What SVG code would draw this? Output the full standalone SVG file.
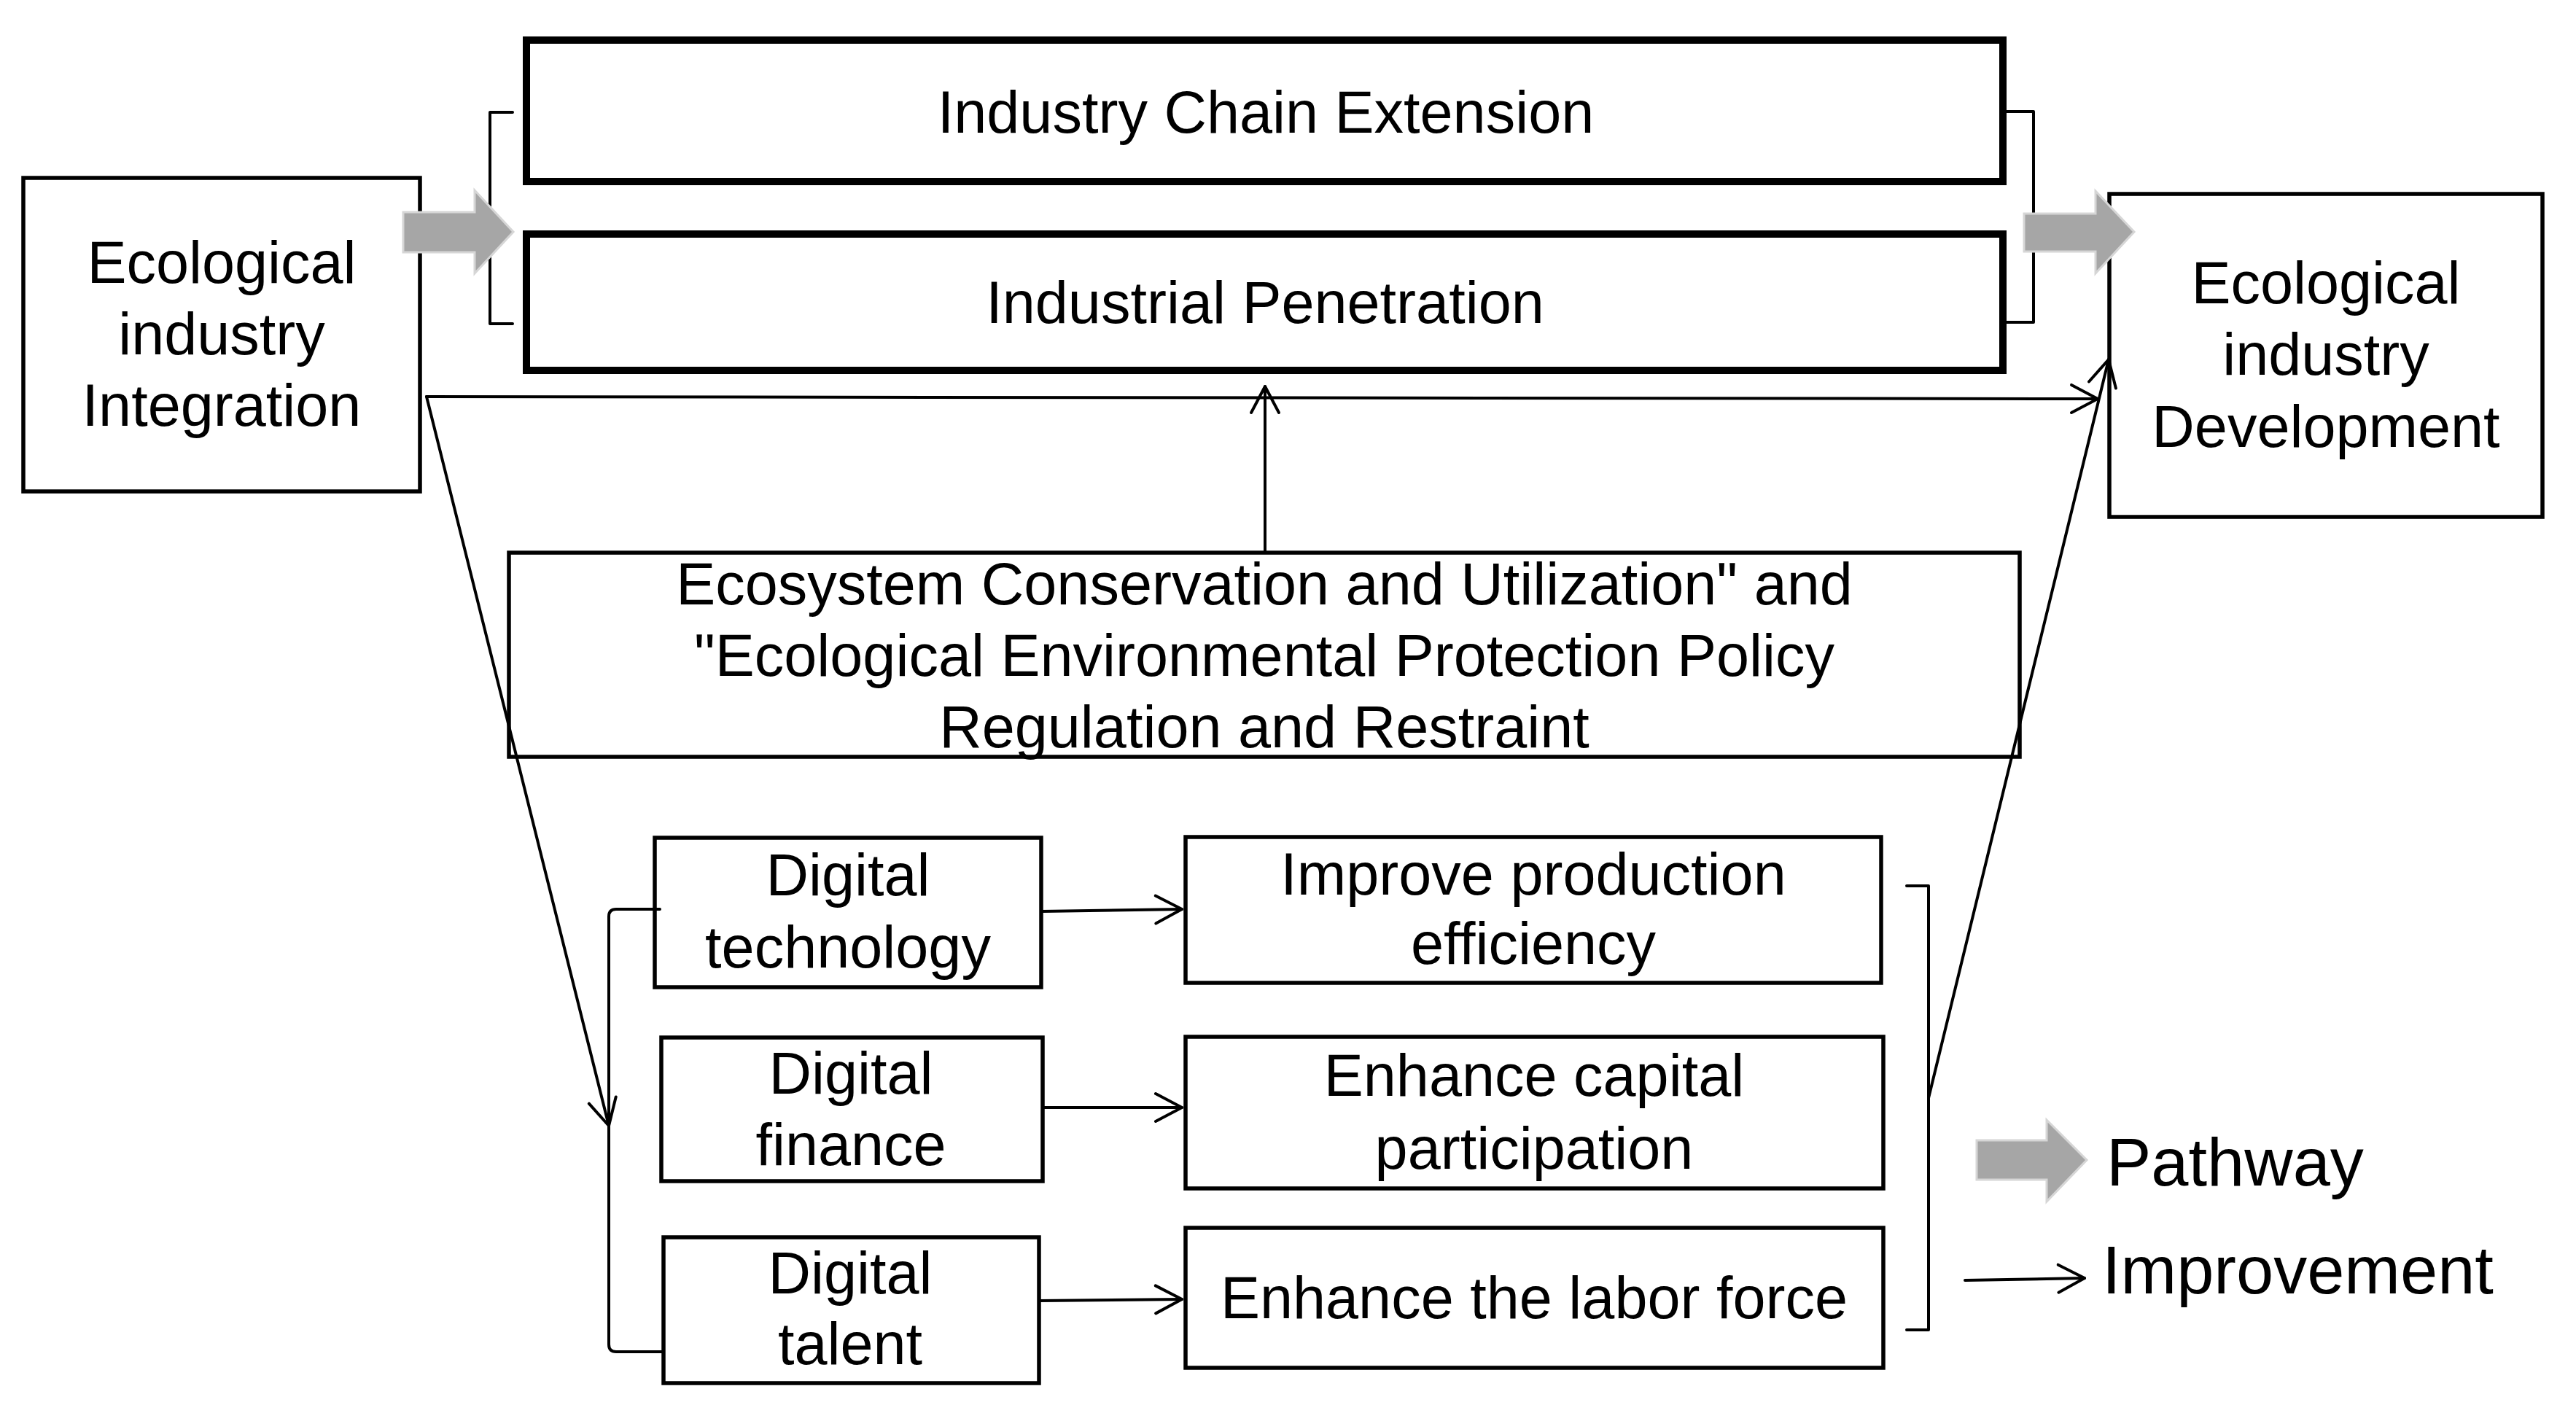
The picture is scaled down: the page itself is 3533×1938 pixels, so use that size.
<svg xmlns="http://www.w3.org/2000/svg" width="3533" height="1938" viewBox="0 0 3533 1938">
<style>
.t{font-family:"Liberation Sans",Arial,"DejaVu Sans",sans-serif;font-size:81px;fill:#000;text-anchor:middle}
.lg{font-family:"Liberation Sans",Arial,"DejaVu Sans",sans-serif;font-size:92px;fill:#000;text-anchor:start}
.box{fill:#fff;stroke:#000;stroke-width:5.5}
.thick{fill:#fff;stroke:#000;stroke-width:10}
.ln{fill:none;stroke:#000;stroke-width:4;stroke-linecap:round;stroke-linejoin:round}
.ga{fill:#a6a6a6;stroke:#d6d6d6;stroke-width:3;stroke-linejoin:miter}
</style>
<defs>
<marker id="arr" viewBox="-42 -24 46 48" refX="0" refY="0" markerWidth="46" markerHeight="48" markerUnits="userSpaceOnUse" orient="auto">
<path d="M-36,-19 L0,0 L-36,19" fill="none" stroke="#000" stroke-width="4" stroke-linecap="round" stroke-linejoin="round"/>
</marker>
</defs>
<rect width="3533" height="1938" fill="#fff"/>

<g id="node-integration">
<rect class="box" x="32" y="244" width="544" height="430"/>
<text class="t" x="304" y="388">Ecological</text>
<text class="t" x="304" y="486">industry</text>
<text class="t" x="304" y="584">Integration</text>
</g>

<g id="node-chain">
<rect class="thick" x="722" y="55" width="2025" height="194"/>
<text class="t" x="1736" y="182">Industry Chain Extension</text>
</g>

<g id="node-penetration">
<rect class="thick" x="722" y="321" width="2025" height="187"/>
<text class="t" x="1735" y="443">Industrial Penetration</text>
</g>

<g id="node-development">
<rect class="box" x="2893" y="266" width="594" height="443"/>
<text class="t" x="3190" y="416">Ecological</text>
<text class="t" x="3190" y="514">industry</text>
<text class="t" x="3190" y="613">Development</text>
</g>

<g id="node-policy">
<rect class="box" x="698" y="758" width="2072" height="280"/>
<text class="t" x="1734" y="829">Ecosystem Conservation and Utilization" and</text>
<text class="t" x="1734" y="927">"Ecological Environmental Protection Policy</text>
<text class="t" x="1734" y="1025">Regulation and Restraint</text>
</g>

<g id="node-tech">
<rect class="box" x="898" y="1149" width="530" height="205"/>
<text class="t" x="1163" y="1228">Digital</text>
<text class="t" x="1163" y="1327">technology</text>
</g>

<g id="node-finance">
<rect class="box" x="907" y="1423" width="523" height="197"/>
<text class="t" x="1167" y="1500">Digital</text>
<text class="t" x="1167" y="1598">finance</text>
</g>

<g id="node-talent">
<rect class="box" x="910" y="1697" width="515" height="200"/>
<text class="t" x="1166" y="1774">Digital</text>
<text class="t" x="1166" y="1871">talent</text>
</g>

<g id="node-efficiency">
<rect class="box" x="1626" y="1148" width="954" height="200"/>
<text class="t" x="2103" y="1227">Improve production</text>
<text class="t" x="2103" y="1322">efficiency</text>
</g>

<g id="node-capital">
<rect class="box" x="1626" y="1422" width="957" height="208"/>
<text class="t" x="2104" y="1503">Enhance capital</text>
<text class="t" x="2104" y="1603">participation</text>
</g>

<g id="node-labor">
<rect class="box" x="1626" y="1684" width="957" height="192"/>
<text class="t" x="2104" y="1808">Enhance the labor force</text>
</g>

<g id="connectors">
<path class="ln" d="M703,154 H672 V444 H703"/>
<path class="ln" d="M2752,153 H2789 V442 H2752"/>
<polygon class="ga" points="553,291 651,291 651,261 704,318 651,375 651,346 553,346"/>
<polygon class="ga" points="2776,293 2874,293 2874,262 2927,318 2874,375 2874,345 2776,345"/>
<line class="ln" x1="585" y1="544" x2="2877" y2="547" marker-end="url(#arr)"/>
<line class="ln" x1="585" y1="544" x2="835" y2="1544" marker-end="url(#arr)"/>
<line class="ln" x1="1735" y1="756" x2="1735" y2="530" marker-end="url(#arr)"/>
<path class="ln" d="M905,1247 H845 Q835,1247 835,1257 V1844 Q835,1854 845,1854 H910"/>
<line class="ln" x1="1428" y1="1250" x2="1621" y2="1247" marker-end="url(#arr)"/>
<line class="ln" x1="1430" y1="1519" x2="1621" y2="1519" marker-end="url(#arr)"/>
<line class="ln" x1="1425" y1="1784" x2="1621" y2="1782" marker-end="url(#arr)"/>
<path class="ln" d="M2615,1215 H2645 V1824 H2615"/>
<line class="ln" x1="2645" y1="1506" x2="2892" y2="493" marker-end="url(#arr)"/>
</g>

<g id="legend">
<polygon class="ga" points="2711,1564 2807,1564 2807,1536 2862,1591 2807,1648 2807,1618 2711,1618"/>
<text class="lg" x="2889" y="1626">Pathway</text>
<line class="ln" x1="2695" y1="1756" x2="2859" y2="1753" marker-end="url(#arr)"/>
<text class="lg" x="2883" y="1774">Improvement</text>
</g>
</svg>
